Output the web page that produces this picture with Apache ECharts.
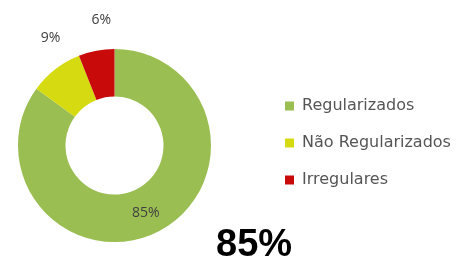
<!DOCTYPE html>
<html><head><meta charset="utf-8">
<script src="https://cdn.jsdelivr.net/npm/echarts@6/dist/echarts.min.js"></script>
<style>html,body{margin:0;padding:0;background:#fff}#c{width:458px;height:264px}</style>
</head><body><div id="c"></div>
<script>
const categories = ['Regularizados', 'Não Regularizados', 'Irregulares'];
const values = [85, 9, 6];
const colors = ['#9BBE52', '#D6DA10', '#C80A0A'];
const bigLabel = '85%';

const chart = echarts.init(document.getElementById('c'), null, {renderer: 'canvas'});
const data = categories.map((name, i) => ({
  name: name,
  value: values[i],
  itemStyle: {color: colors[i]},
  label: i === 0 ? {position: 'inside'} : {position: 'outside'},
  labelLine: {show: false, length: 18, length2: 0}
}));
const labelShift = [[-3, 0], [21, -17], [23, -13]];
chart.setOption({
  animation: false,
  legend: {
    orient: 'vertical',
    left: 280,
    top: 93,
    itemWidth: 9,
    itemHeight: 9,
    itemGap: 21,
    icon: 'rect',
    itemStyle: {borderWidth: 0},
    textStyle: {fontFamily: 'DejaVu Sans', fontSize: 16, color: '#555', padding: [0, 0, 0, 3]},
    data: categories
  },
  title: {
    text: bigLabel,
    left: 211,
    top: 222,
    textStyle: {fontFamily: 'Liberation Sans', fontWeight: 'bold', fontSize: 38, color: '#000'}
  },
  series: [{
    type: 'pie',
    center: [114.5, 145.5],
    radius: [49, 96.5],
    startAngle: 90,
    clockwise: true,
    avoidLabelOverlap: false,
    label: {
      show: true,
      formatter: '{c}%',
      fontFamily: 'Open Sans',
      fontSize: 14,
      color: '#404040'
    },
    labelLayout: function (p) {
      const s = labelShift[p.dataIndex];
      return {dx: s[0], dy: s[1]};
    },
    data: data
  }]
});
</script></body></html>
